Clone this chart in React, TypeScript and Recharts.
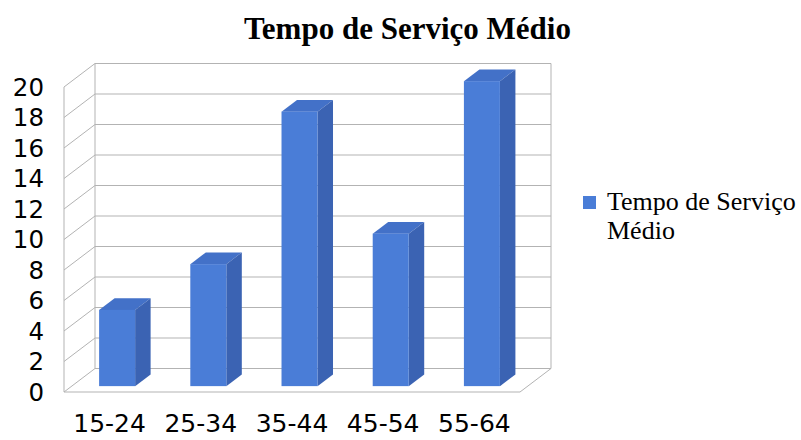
import React from 'react';
import { Bar, BarChart, CartesianGrid, Legend, XAxis, YAxis } from 'recharts';

const categories = ['15-24', '25-34', '35-44', '45-54', '55-64'];
const tempoMedio = [5, 8, 18, 10, 20];
const yTicks = [0, 2, 4, 6, 8, 10, 12, 14, 16, 18, 20];
const seriesName = 'Tempo de Serviço Médio';

const data = categories.map((faixa, i) => ({ faixa, tempo: tempoMedio[i] }));

// profundidade do "3D" (parede de fundo deslocada)
const DX = 31;
const DY = -23.5;
const GRID = '#b3b3b3';

const FRONT = '#4a7dd7';
const TOP = '#4371c8';
const SIDE = '#3b63b3';

// barra em 3D: face frontal a 1/4 da profundidade, espessura de 1/2
const Bar3D = (props: any) => {
  const { x, y, width, height } = props;
  if (height == null || width == null) return null;
  const fx = x + DX * 0.25;
  const fy = y + DY * 0.25;
  const ox = DX * 0.5;
  const oy = DY * 0.5;
  return (
    <g>
      <polygon
        points={`${fx},${fy} ${fx + width},${fy} ${fx + width + ox},${fy + oy} ${fx + ox},${fy + oy}`}
        fill={TOP}
      />
      <polygon
        points={`${fx + width},${fy} ${fx + width + ox},${fy + oy} ${fx + width + ox},${fy + height + oy} ${fx + width},${fy + height}`}
        fill={SIDE}
      />
      <rect x={fx} y={fy} width={width} height={height} fill={FRONT} />
    </g>
  );
};

// linhas horizontais: parede do fundo + diagonal na parede lateral
const HLine = (props: any) => {
  const { x1, x2, y1, index } = props;
  return (
    <g key={`h-${index}`}>
      <line x1={x1 + DX} y1={y1 + DY} x2={x2 + DX} y2={y1 + DY} stroke={GRID} strokeWidth={1} />
      <line x1={x1} y1={y1} x2={x1 + DX} y2={y1 + DY} stroke={GRID} strokeWidth={1} />
    </g>
  );
};

// arestas verticais e chão
const VLine = (props: any) => {
  const { x1, y1, y2, index } = props;
  const right = props.x != null && props.width != null ? props.x + props.width : x1;
  return (
    <g key={`v-${index}`}>
      <line x1={x1} y1={y1} x2={x1} y2={y2} stroke={GRID} />
      <line x1={x1 + DX} y1={y1 + DY} x2={x1 + DX} y2={y2 + DY} stroke={GRID} />
      <line x1={right + DX} y1={y1 + DY} x2={right + DX} y2={y2 + DY} stroke={GRID} />
      <line x1={x1} y1={y2} x2={right} y2={y2} stroke={GRID} />
      <line x1={right} y1={y2} x2={right + DX} y2={y2 + DY} stroke={GRID} />
    </g>
  );
};

const LegendContent = () => (
  <div style={{ display: 'flex', alignItems: 'flex-start', fontFamily: '"Liberation Serif", serif', fontSize: 26, lineHeight: '29px', color: '#000' }}>
    <span style={{ width: 13, height: 13, background: FRONT, marginTop: 9, marginRight: 11, flexShrink: 0 }} />
    <span style={{ width: 200 }}>{seriesName}</span>
  </div>
);

export default function App() {
  return (
    <div style={{ width: 801, height: 440, position: 'relative', background: '#fff' }}>
      <style>{'body{margin:0}'}</style>
      <div
        style={{
          position: 'absolute',
          top: 11,
          left: 0,
          width: 815,
          textAlign: 'center',
          fontFamily: '"Liberation Serif", serif',
          fontWeight: 'bold',
          fontSize: 31,
          lineHeight: '36px',
          color: '#000',
        }}
      >
        {seriesName}
      </div>
      <BarChart
        width={801}
        height={440}
        data={data}
        margin={{ top: 87, right: 281, left: 8, bottom: 8 }}
        barCategoryGap="30%"
      >
        <CartesianGrid
          horizontal={HLine}
          vertical={VLine}
          verticalCoordinatesGenerator={({ offset }: any) => [offset.left]}
        />
        <XAxis
          dataKey="faixa"
          axisLine={false}
          tickLine={false}
          tickSize={0}
          tickMargin={22}
          height={40}
          interval={0}
          tick={{ fill: '#000', fontSize: 25, fontFamily: '"DejaVu Sans", sans-serif' }}
        />
        <YAxis
          domain={[0, 20]}
          ticks={yTicks}
          interval={0}
          axisLine={false}
          tickLine={false}
          tickSize={0}
          tickMargin={20}
          width={56}
          tick={{ fill: '#000', fontSize: 24.5, fontFamily: '"DejaVu Sans", sans-serif' }}
        />
        <Legend
          layout="horizontal"
          align="center"
          verticalAlign="middle"
          content={<LegendContent />}
          wrapperStyle={{ left: 583, top: 187, width: 218 }}
        />
        <Bar dataKey="tempo" name={seriesName} shape={<Bar3D />} isAnimationActive={false} />
      </BarChart>
    </div>
  );
}
